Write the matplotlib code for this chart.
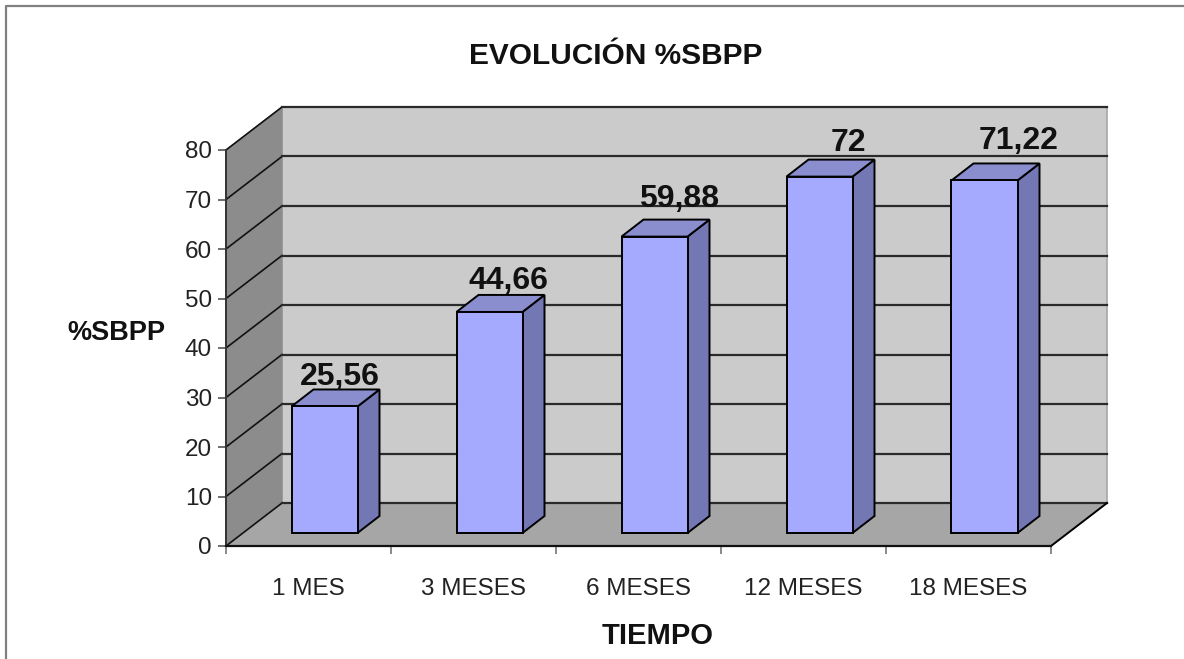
import matplotlib
matplotlib.use("Agg")
import matplotlib.pyplot as plt
from matplotlib.lines import Line2D

##################################################
# Data
##################################################
categories = ["1 MES", "3 MESES", "6 MESES", "12 MESES", "18 MESES"]
# bar heights as drawn; labels are the text printed above them
values = [25.56, 44.66, 59.88, 72, 71.22]
value_labels = ["25,56", "44,66", "59,88", "72", "71,22"]
y_ticks = [0, 10, 20, 30, 40, 50, 60, 70, 80]

W, H = 1184, 659
# front plane of the 3D box in pixels
LEFT, RIGHT, BOTTOM, TOP = 226, 1051, 546, 150
# box depth in pixels
DEPTH_X, DEPTH_Y = 56, 43
# label centre relative to the bar front face centre / top, in pixels
LABEL_NUDGE_X = [15, 19, 25, 29, 34]
LABEL_NUDGE_Y = [29, 31, 38, 34, 39]

plt.rcParams["font.family"] = ["Liberation Sans", "DejaVu Sans"]

fig = plt.figure(figsize=(W / 100, H / 100), dpi=100, facecolor="white")
ax = fig.add_axes([LEFT / W, 1 - BOTTOM / H, (RIGHT - LEFT) / W, (BOTTOM - TOP) / H])
ax.set_xlim(0, len(categories))
ax.set_ylim(0, 80)
ax.patch.set_visible(False)

px_x = len(categories) / (RIGHT - LEFT)
px_y = 80 / (BOTTOM - TOP)
dx = DEPTH_X * px_x
dy = DEPTH_Y * px_y
n = len(categories)


def poly(xs, ys, color, zorder, edge="black", lw=1.4):
    ax.fill(xs, ys, facecolor=color, edgecolor=edge, linewidth=lw,
            zorder=zorder, clip_on=False, joinstyle="miter")


# Walls and floor
poly([dx, n + dx, n + dx, dx], [dy, dy, 80 + dy, 80 + dy], "#cbcbcb", 1, edge="#a8a8a8", lw=1.2)
poly([0, dx, dx, 0], [0, dy, 80 + dy, 80], "#8c8c8c", 1, edge="#8c8c8c", lw=0.8)
poly([0, n, n + dx, dx], [0, 0, dy, dy], "#a6a6a6", 1, edge="#a6a6a6", lw=0.8)

# Gridlines run along the side wall and the back wall
for t in y_ticks:
    ax.plot([0, dx], [t, t + dy], color="#111111", lw=1.2, zorder=2, clip_on=False)
    ax.plot([dx, n + dx], [t + dy, t + dy], color="#2a2a2a", lw=1.6, zorder=2, clip_on=False)
ax.plot([n, n + dx], [0, dy], color="black", lw=1.4, zorder=2, clip_on=False)

# Bars: sit about mid depth in the box
bar_w = 66 * px_x
off_x = 16 * px_x
off_y = 13 * px_y
bar_dx = 22 * px_x
bar_dy = 17 * px_y
for i, v in enumerate(values):
    x0 = i + 0.5 - bar_w / 2 + off_x
    x1 = x0 + bar_w
    y0 = off_y
    y1 = off_y + v
    poly([x1, x1 + bar_dx, x1 + bar_dx, x1], [y0, y0 + bar_dy, y1 + bar_dy, y1], "#7377b3", 3)
    poly([x0, x1, x1 + bar_dx, x0 + bar_dx], [y1, y1, y1 + bar_dy, y1 + bar_dy], "#8a8ecf", 3)
    poly([x0, x1, x1, x0], [y0, y0, y1, y1], "#a6aaff", 4)
    ax.text(x0 + bar_w / 2 + LABEL_NUDGE_X[i] * px_x, y1 + LABEL_NUDGE_Y[i] * px_y, value_labels[i],
            ha="center", va="center", fontsize=23, fontweight="bold", color="#111111",
            zorder=6, clip_on=False)

# Axes, ticks and labels
for side in ["top", "right"]:
    ax.spines[side].set_visible(False)
ax.spines["left"].set_linewidth(1.4)
ax.spines["left"].set_color("#333333")
ax.spines["bottom"].set_linewidth(1.6)
ax.spines["bottom"].set_color("#111111")
ax.spines["left"].set_zorder(5)
ax.spines["bottom"].set_zorder(5)
ax.set_yticks(y_ticks)
ax.set_xticks(range(n + 1))
ax.set_xticklabels([])
ax.set_xticks([i + 0.5 for i in range(n)], minor=True)
ax.set_xticklabels(categories, minor=True, color="#222222")
ax.tick_params(axis="x", which="major", length=6, width=1.2, direction="out", color="#777777")
ax.tick_params(axis="x", which="minor", length=0, pad=23, labelsize=17.5)
ax.tick_params(axis="y", length=6, width=1.2, labelsize=17.5, pad=4, color="#555555", labelcolor="#222222")

fig.text(616 / W, 1 - 56 / H, "EVOLUCIÓN %SBPP", ha="center", va="center", fontsize=21.5, fontweight="bold", color="#111111")
fig.text(116.5 / W, 1 - 333 / H, "%SBPP", ha="center", va="center", fontsize=19.5, fontweight="bold", color="#111111")
fig.text(657.5 / W, 1 - 636 / H, "TIEMPO", ha="center", va="center", fontsize=21, fontweight="bold", color="#111111")

# Frame around the chart: top and left edges only, the right side is cut off
fig.add_artist(Line2D([6 / W, 6 / W, 1], [0, 1 - 6 / H, 1 - 6 / H], transform=fig.transFigure,
                      color="#808080", linewidth=1.6))

fig.savefig("out.png", dpi=100)
